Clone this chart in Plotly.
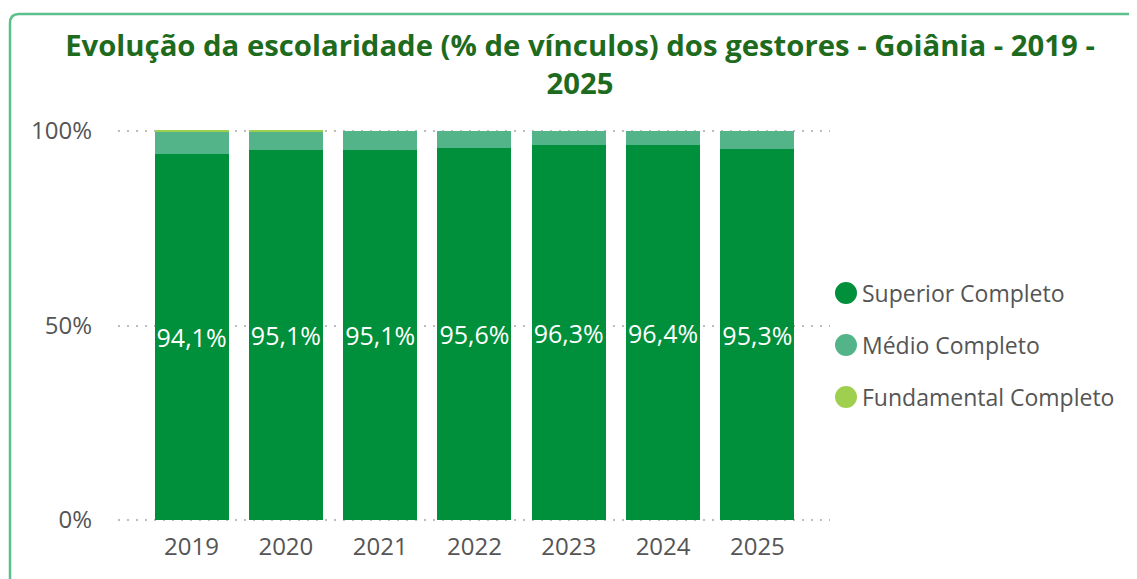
import plotly.graph_objects as go

years = ["2019", "2020", "2021", "2022", "2023", "2024", "2025"]
superior = [94.1, 95.1, 95.1, 95.6, 96.3, 96.4, 95.3]
medio = [5.7, 4.7, 4.9, 4.4, 3.7, 3.6, 4.7]
fundamental = [0.2, 0.2, 0.0, 0.0, 0.0, 0.0, 0.0]
y_ticks = [0, 50, 100]
y_tick_labels = ["0%", "50%", "100%"]

names = ["Superior Completo", "Médio Completo", "Fundamental Completo"]
colors = ["#008f3a", "#52b488", "#9fcf4f"]

OFF = 8  # browser body margin
W, H = 1137 - OFF, 579 - OFF
# plot area in page pixels
L, R = 118, 830
Y0, Y100 = 520, 131  # pixel rows of 0% and 100%
EXT = 0.5  # range extension so edge gridlines are drawn
per = (Y0 - Y100) / 100.0
T = Y100 - EXT * per
B = Y0 + EXT * per

def px(x):
    return (x - L) / (R - L)

def py(y):
    return (B - y) / (B - T)

fig = go.Figure()
sup_text = [f"{v:.1f}".replace(".", ",") + "%" for v in superior]
fig.add_trace(go.Bar(x=years, y=superior, name=names[0], marker_color=colors[0],
                     text=sup_text, textposition="inside", insidetextanchor="middle",
                     constraintext="none", textangle=0,
                     textfont=dict(color="white", size=25, family="Open Sans"),
                     showlegend=False, marker_line_width=0))
fig.add_trace(go.Bar(x=years, y=medio, name=names[1], marker_color=colors[1],
                     showlegend=False, marker_line_width=0))
fig.add_trace(go.Bar(x=years, y=fundamental, name=names[2], marker_color=colors[2],
                     showlegend=False, marker_line_width=0))

# legend drawn as circles + labels
leg_cx, leg_r, leg_tx = 846, 11, 860
leg_ys = [293, 345, 397]
for n, c, ly in zip(names, colors, leg_ys):
    fig.add_shape(type="circle", xref="paper", yref="paper",
                  x0=px(leg_cx - leg_r), x1=px(leg_cx + leg_r),
                  y0=py(ly + leg_r), y1=py(ly - leg_r),
                  fillcolor=c, line=dict(width=0))
    fig.add_annotation(text=n, xref="paper", yref="paper", x=px(leg_tx), y=py(ly),
                       xanchor="left", yanchor="middle", showarrow=False,
                       font=dict(family="Open Sans", size=23, color="#555555"))

# frame with rounded corner
r = 9
fx, fy = 10, 14
path = (f"M {px(fx)},{py(700)} L {px(fx)},{py(fy + r)} "
        f"Q {px(fx)},{py(fy)} {px(fx + r)},{py(fy)} L {px(1300)},{py(fy)}")
fig.add_shape(type="path", path=path, xref="paper", yref="paper",
              line=dict(color="#5cc08a", width=2.5), layer="below")

fig.update_layout(
    width=W, height=H,
    margin=dict(l=L - OFF, r=W - (R - OFF), t=T - OFF, b=H - (B - OFF), pad=0),
    barmode="stack", bargap=0.215, showlegend=False,
    plot_bgcolor="white", paper_bgcolor="white",
    title=dict(text="<b>Evolução da escolaridade (% de vínculos) dos gestores - Goiânia - 2019 -<br>2025</b>",
               x=(580 - OFF) / W, xanchor="center", y=1 - (56 - OFF) / H, yanchor="middle",
               font=dict(family="Open Sans", size=29.3, color="#1e6b1e")),
    xaxis=dict(range=[-0.78, 6.77], showgrid=False, showline=False, ticks="",
               ticklabelstandoff=8,
               tickfont=dict(family="Open Sans", size=24, color="#555555")),
    yaxis=dict(range=[-EXT, 100 + EXT], tickvals=y_ticks, ticktext=y_tick_labels,
               showgrid=True, gridcolor="#bdbdbd", griddash="2px,7px", gridwidth=2,
               zeroline=False, showline=False, ticks="", ticklabelstandoff=25,
               tickfont=dict(family="Open Sans", size=24, color="#555555")),
)

fig.write_html("out.html")
